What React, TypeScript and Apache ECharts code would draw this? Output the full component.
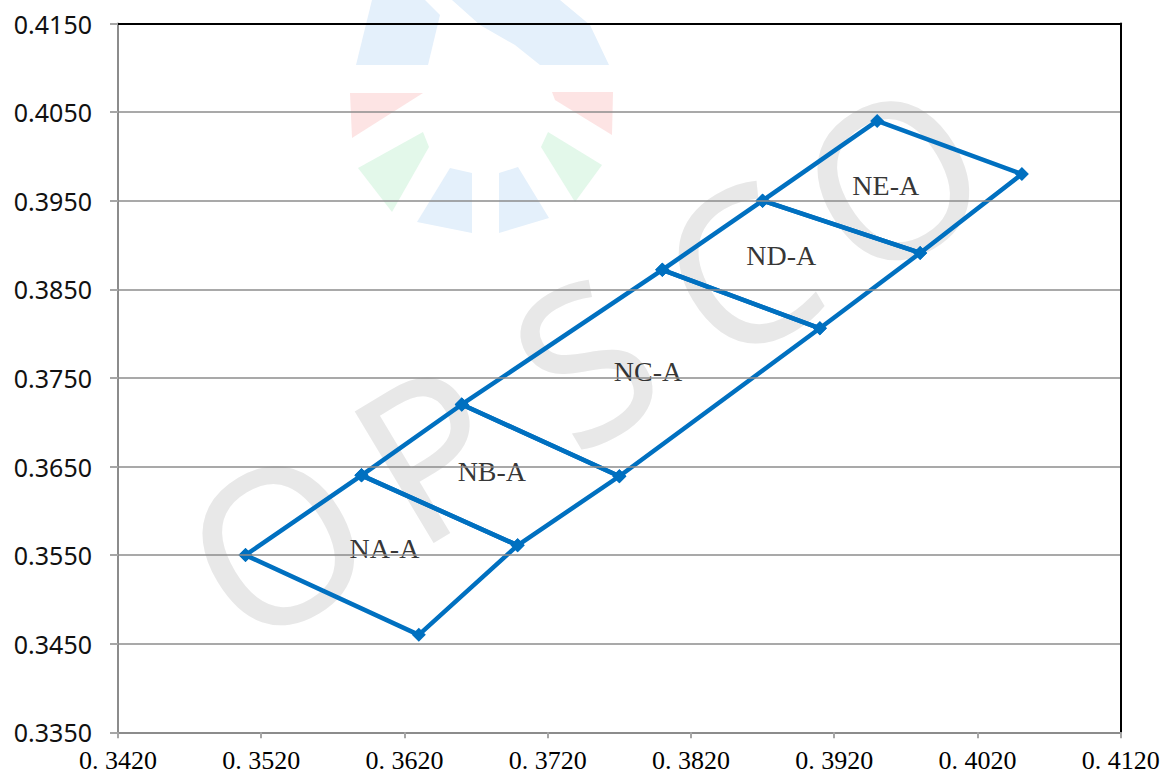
import React, { useEffect, useRef } from "react";
import * as echarts from "echarts";

// Vertices of the chromaticity bins (x, y)
const vertexX = [0.3509, 0.363, 0.359, 0.3699, 0.366, 0.377, 0.38, 0.391, 0.387, 0.398, 0.395, 0.4051];
const vertexY = [0.355, 0.346, 0.364, 0.3561, 0.372, 0.3639, 0.3872, 0.3806, 0.395, 0.3891, 0.404, 0.398];

// Each bin: indices of its four corners
const binNames = ["NA-A", "NB-A", "NC-A", "ND-A", "NE-A"];
const binCorners = [
  [0, 2, 3, 1],
  [2, 4, 5, 3],
  [4, 6, 7, 5],
  [6, 8, 9, 7],
  [8, 10, 11, 9],
];
// Label positions for bins
const labelX = [0.3606, 0.3681, 0.379, 0.3883, 0.3956];
const labelY = [0.3557, 0.3644, 0.3757, 0.3888, 0.3967];

// Axis settings
const xMin = 0.342;
const xMax = 0.412;
const yMin = 0.335;
const yMax = 0.415;
const tickStep = 0.01;

const LINE_COLOR = "#0070C0";
const AXIS_GRAY = "#8c8c8c";

export default function App() {
  const ref = useRef<HTMLDivElement>(null);

  useEffect(() => {
    if (!ref.current) return;
    const chart = echarts.init(ref.current, null, { renderer: "svg" });

    const binSeries = binCorners.map((corners, i) => ({
      type: "line",
      name: binNames[i],
      data: [...corners, corners[0]].map((k) => [vertexX[k], vertexY[k]]),
      symbol: "diamond",
      symbolSize: 14,
      showSymbol: true,
      lineStyle: { color: LINE_COLOR, width: 4.5 },
      itemStyle: { color: LINE_COLOR },
      z: 3,
      silent: true,
    }));

    const labelSeries = {
      type: "scatter",
      symbolSize: 0,
      data: binNames.map((n, i) => ({ name: n, value: [labelX[i], labelY[i]] })),
      label: {
        show: true,
        position: "inside",
        formatter: "{b}",
        fontFamily: "Liberation Serif",
        fontSize: 28,
        color: "#000",
      },
      z: 4,
      silent: true,
    };

    const wmColor = "#e8e8e8";
    const wmLetters = ["O", "P", "S", "C", "O"];
    const wmStart = [275, 540];
    const wmEnd = [890, 175];
    const wmText = wmLetters.map((ch, i) => {
      const t = i / 4;
      return {
        type: "text",
        x: wmStart[0] + (wmEnd[0] - wmStart[0]) * t,
        y: wmStart[1] + (wmEnd[1] - wmStart[1]) * t,
        rotation: 0.54,
        z: -1,
        silent: true,
        style: {
          text: ch,
          fontSize: 215,
          fontFamily: "Noto Sans",
          fill: wmColor,
          align: "center",
          verticalAlign: "middle",
          textAlign: "center",
          textVerticalAlign: "middle",
        },
      };
    });

    const blue = "#e4f0fb";
    const red = "#fde4e4";
    const green = "#e3f8ea";
    const logoShapes: Array<[string, number[][]]> = [
      [blue, [[356, 65], [428, 65], [440, 15], [425, 0], [372, 0]]],
      [blue, [[452, 0], [560, 0], [590, 25], [609, 65], [540, 65], [515, 45], [480, 25]]],
      [red, [[350, 93], [423, 93], [352, 138]]],
      [green, [[358, 168], [423, 132], [429, 147], [392, 212]]],
      [blue, [[450, 168], [472, 173], [472, 233], [417, 222]]],
      [blue, [[499, 173], [518, 167], [549, 218], [499, 233]]],
      [green, [[541, 147], [548, 132], [602, 165], [575, 202]]],
      [red, [[552, 92], [613, 92], [612, 135], [555, 100]]],
    ];
    const logo = logoShapes.map(([c, pts]) => ({
      type: "polygon",
      z: -2,
      silent: true,
      shape: { points: pts },
      style: { fill: c },
    }));

    const option: any = {
      animation: false,
      backgroundColor: "#fff",
      grid: { left: 118, top: 23.5, right: 50.3, bottom: 43.7, containLabel: false },
      graphic: [...logo, ...wmText],
      xAxis: [
        {
          type: "value",
          min: xMin,
          max: xMax,
          interval: tickStep,
          position: "bottom",
          axisLine: { show: true, onZero: false, lineStyle: { color: AXIS_GRAY, width: 2 } },
          axisTick: { show: true, length: 6, lineStyle: { color: "#a6a6a6", width: 2 } },
          splitLine: { show: false },
          axisLabel: {
            margin: 15,
            fontFamily: "Liberation Serif",
            fontSize: 26,
            color: "#000",
            formatter: (v: number) => "0. " + v.toFixed(4).slice(2),
          },
          z: 5,
        },
        {
          type: "value",
          min: xMin,
          max: xMax,
          position: "top",
          axisLine: { show: true, onZero: false, lineStyle: { color: "#000", width: 2 } },
          axisTick: { show: false },
          axisLabel: { show: false },
          splitLine: { show: false },
          z: 5,
        },
      ],
      yAxis: [
        {
          type: "value",
          min: yMin,
          max: yMax,
          interval: tickStep,
          position: "left",
          axisLine: { show: true, onZero: false, lineStyle: { color: AXIS_GRAY, width: 2 } },
          axisTick: { show: true, length: 8, lineStyle: { color: "#a6a6a6", width: 2 } },
          splitLine: { show: true, lineStyle: { color: AXIS_GRAY, width: 1.5 } },
          axisLabel: {
            margin: 26,
            fontFamily: "Noto Sans",
            fontSize: 25,
            color: "#111",
            formatter: (v: number) => v.toFixed(4),
          },
          z: 5,
        },
        {
          type: "value",
          min: yMin,
          max: yMax,
          position: "right",
          axisLine: { show: true, onZero: false, lineStyle: { color: "#000", width: 2 } },
          axisTick: { show: false },
          axisLabel: { show: false },
          splitLine: { show: false },
          z: 5,
        },
      ],
      series: [...binSeries, labelSeries],
    };

    chart.setOption(option);
    return () => chart.dispose();
  }, []);

  return (
    <div
      ref={ref}
      style={{ position: "absolute", left: 0, top: 0, width: "1171px", height: "776px" }}
    />
  );
}
